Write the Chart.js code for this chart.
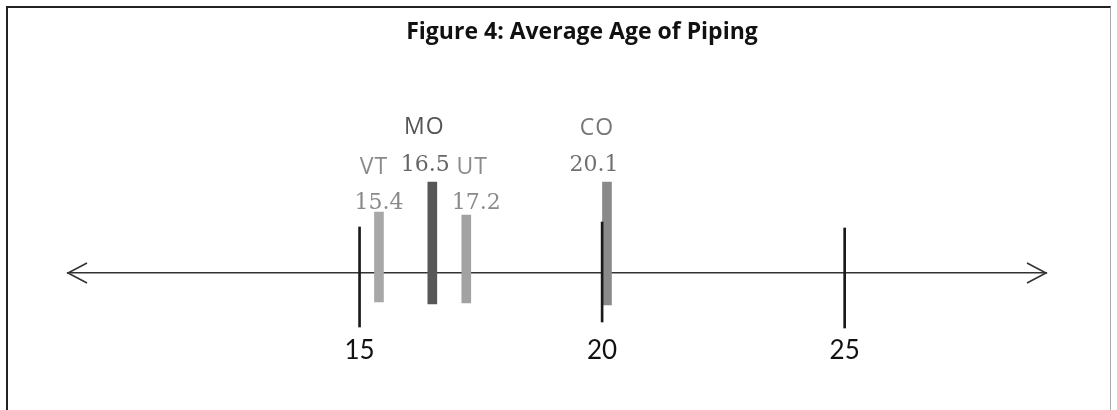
<!DOCTYPE html>
<html>
<head>
<meta charset="utf-8">
<script src="https://cdn.jsdelivr.net/npm/chart.js@4.4.1/dist/chart.umd.min.js"></script>
<style>
  html, body { margin: 0; padding: 0; background: #fff; }
  #wrap { position: relative; width: 1117px; height: 410px; overflow: hidden; }
  #frame {
    position: absolute; left: 6px; top: 6px; width: 1102px; height: 420px;
    border: 2px solid #222; border-right: 1px solid #aaa; pointer-events: none;
  }
</style>
</head>
<body>
<div id="wrap">
  <canvas id="chart" width="1117" height="410"></canvas>
  <div id="frame"></div>
</div>
<script>
const TITLE = 'Figure 4: Average Age of Piping';

// states and their average piping age (years)
const STATES = ['VT', 'MO', 'UT', 'CO'];
const AVERAGE_AGE = [15.4, 16.5, 17.2, 20.1];
const AGE_LABELS = ['15.4', '16.5', '17.2', '20.1'];

// marker extents in px-like units above the number line
const BAR_TOP = [61, 91, 58, 91];
const BAR_BOTTOM = [-29, -31, -30, -32];
const BAR_COLORS = ['#a8a8a8', '#575757', '#a2a2a2', '#8a8a8a'];

// number line
const AXIS_TICKS = [15, 20, 25];
const TICK_TOP = [46, 51, 45];
const TICK_BOTTOM = [-54, -49, -55];
const AXIS_MIN = 8.99;
const AXIS_MAX = 29.15;

// label layout: x nudge (px), name height, value height (y units)
const LABEL_DX = [-5, -8, 6, -10];
const VALUE_DX = [0, -7, 10, -13];
const NAME_Y = [106, 146, 106, 145];
const VALUE_Y = [70, 108, 70, 108];
const NAME_COLORS = ['#8a8a8a', '#555555', '#8a8a8a', '#777777'];
const VALUE_COLORS = ['#8a8a8a', '#666666', '#8a8a8a', '#707070'];

const titlePlugin = {
  id: 'scanTitle',
  afterDraw(chart) {
    const { ctx } = chart;
    ctx.save();
    ctx.font = 'bold 23px "Open Sans"';
    ctx.fillStyle = '#111';
    ctx.textAlign = 'center';
    ctx.textBaseline = 'middle';
    ctx.fillText(TITLE, 582, 32);
    ctx.restore();
  },
};

const arrowPlugin = {
  id: 'arrows',
  afterDraw(chart) {
    const { ctx, scales } = chart;
    const x = scales.x;
    const y0 = scales.y.getPixelForValue(0);
    const left = x.getPixelForValue(AXIS_MIN);
    const right = x.getPixelForValue(AXIS_MAX);
    ctx.save();
    ctx.strokeStyle = '#333';
    ctx.lineWidth = 1.6;
    ctx.beginPath();
    ctx.moveTo(left + 19, y0 - 10);
    ctx.lineTo(left, y0);
    ctx.lineTo(left + 19, y0 + 10);
    ctx.moveTo(right - 19, y0 - 10);
    ctx.lineTo(right, y0);
    ctx.lineTo(right - 19, y0 + 10);
    ctx.stroke();
    ctx.restore();
  },
};

const labelPlugin = {
  id: 'stateLabels',
  afterDatasetsDraw(chart) {
    const { ctx, scales } = chart;
    ctx.save();
    ctx.textAlign = 'center';
    ctx.textBaseline = 'middle';
    STATES.forEach((state, i) => {
      const px = scales.x.getPixelForValue(AVERAGE_AGE[i]);
      ctx.font = '23px "Open Sans"';
      ctx.letterSpacing = '1px';
      ctx.fillStyle = NAME_COLORS[i];
      ctx.fillText(state, px + LABEL_DX[i], scales.y.getPixelForValue(NAME_Y[i]));
      ctx.font = '22px "DejaVu Serif"';
      ctx.letterSpacing = '0px';
      ctx.fillStyle = VALUE_COLORS[i];
      ctx.fillText(AGE_LABELS[i], px + VALUE_DX[i], scales.y.getPixelForValue(VALUE_Y[i]));
    });
    ctx.restore();
  },
};

new Chart(document.getElementById('chart'), {
  type: 'bar',
  data: {
    datasets: [
      {
        label: 'Ticks',
        data: AXIS_TICKS.map((v, i) => ({ x: v, y: [TICK_BOTTOM[i], TICK_TOP[i]] })),
        backgroundColor: '#1a1a1a',
        barThickness: 2,
        grouped: false,
      },
      {
        label: 'Average age',
        data: AVERAGE_AGE.map((v, i) => ({ x: v, y: [BAR_BOTTOM[i], BAR_TOP[i]] })),
        backgroundColor: BAR_COLORS,
        barThickness: 9,
        grouped: false,
      },
    ],
  },
  options: {
    responsive: false,
    animation: false,
    layout: { padding: { top: 73, left: 68, right: 71, bottom: 37 } },
    plugins: {
      legend: { display: false },
      tooltip: { enabled: false },
      title: { display: false },
    },
    scales: {
      x: {
        type: 'linear',
        offset: false,
        min: AXIS_MIN,
        max: AXIS_MAX,
        position: { y: 0 },
        afterBuildTicks: (scale) => {
          scale.ticks = AXIS_TICKS.map((value) => ({ value }));
        },
        grid: { display: true, offset: false, drawOnChartArea: false, drawTicks: false },
        border: { display: true, color: '#333', width: 1.6 },
        ticks: {
          color: '#111',
          padding: 62,
          font: { family: 'Lato', size: 26 },
          maxRotation: 0,
        },
      },
      y: {
        display: false,
        min: -100,
        max: 200,
      },
    },
  },
  plugins: [titlePlugin, arrowPlugin, labelPlugin],
});
</script>
</body>
</html>
